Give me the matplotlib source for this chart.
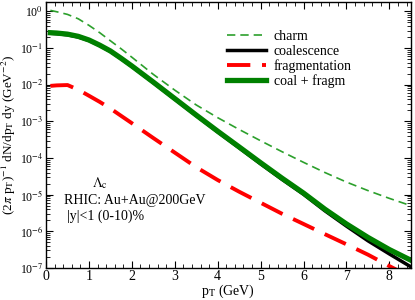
import matplotlib
matplotlib.use("Agg")
import numpy as np
import matplotlib.pyplot as plt
from matplotlib.ticker import MultipleLocator, LogLocator, NullFormatter, FuncFormatter

pt = [0.1, 0.25, 0.5, 0.75, 1.0, 1.25, 1.5, 1.75, 2.0, 2.5, 3.0, 3.5, 4.0, 4.5,
      5.0, 5.5, 6.0, 6.5, 7.0, 7.5, 8.0, 8.5]
charm = [1.07, 0.98, 0.83, 0.63, 0.417, 0.263, 0.158, 0.0955, 0.0562, 0.0191, 7.1e-3, 2.8e-3,
         1.26e-3, 6.0e-4, 2.95e-4, 1.48e-4, 7.6e-5, 4.0e-5, 2.2e-5, 1.29e-5, 7.9e-6, 5.0e-6]
coal = [0.254, 0.247, 0.230, 0.201, 0.161, 0.117, 0.0810, 0.0511, 0.0315, 0.0114, 4.03e-3,
        1.43e-3, 5.15e-4, 1.89e-4, 6.9e-5, 2.6e-5, 1.02e-5, 3.6e-6, 1.38e-6, 5.5e-7, 2.4e-7, 1.07e-7]
frag = [9.3e-3, 9.6e-3, 9.8e-3, 7.3e-3, 5.0e-3, 3.4e-3, 2.24e-3, 1.41e-3, 8.9e-4, 3.5e-4, 1.4e-4,
        5.6e-5, 2.5e-5, 1.2e-5, 6.0e-6, 3.0e-6, 1.58e-6, 8.3e-7, 4.4e-7, 2.3e-7, 1.12e-7, 5.6e-8]
total = [0.263, 0.257, 0.240, 0.209, 0.166, 0.120, 0.0832, 0.0525, 0.0324, 0.01175, 4.17e-3,
         1.48e-3, 5.37e-4, 2.0e-4, 7.4e-5, 2.8e-5, 1.1e-5, 3.98e-6, 1.58e-6, 6.8e-7, 3.16e-7, 1.62e-7]

plt.rcParams['font.family'] = ['Liberation Serif', 'DejaVu Serif']
plt.rcParams['mathtext.fontset'] = 'stix'

fig = plt.figure(figsize=(4.15, 3.0), dpi=100)
ax = fig.add_axes([0.111, 0.107, 0.879, 0.886])

ax.plot(pt, charm, color='#2ca02c', lw=1.2, ls=(0, (5, 3)), label='charm')
ax.plot(pt, coal, color='black', lw=2.5, label='coalescence')
ax.plot(pt, frag, color='#ff0000', lw=2.8, ls=(0, (6, 3)), label='fragmentation')
ax.plot(pt, total, color='#008000', lw=3.8, label='coal + fragm')

ax.set_yscale('log')
ax.set_xlim(0, 8.5)
ax.set_ylim(1e-7, 1.8)
ax.xaxis.set_major_locator(MultipleLocator(1))
ax.xaxis.set_minor_locator(MultipleLocator(0.2))
ax.yaxis.set_major_locator(LogLocator(base=10, numticks=20))
ax.yaxis.set_minor_locator(LogLocator(base=10, subs=range(2, 10), numticks=20))
ax.yaxis.set_minor_formatter(NullFormatter())
ax.yaxis.set_major_formatter(FuncFormatter(lambda v, p: '10$^{%d}$' % int(round(np.log10(v)))))
ax.tick_params(which='both', direction='in', top=True, right=True)
ax.tick_params(axis='x', labelsize=10, pad=1.5)
ax.tick_params(axis='y', labelsize=8.5, pad=2)
ax.tick_params(which='major', length=5)
ax.tick_params(which='minor', length=3)
for s in ax.spines.values():
    s.set_linewidth(1.0)

ax.set_xlabel(r'p$_\mathrm{T}$ (GeV)', fontsize=10)
ax.xaxis.set_label_coords(0.5, -0.055)
ax.xaxis.label.set_va('top')
ax.set_ylabel(r'(2$\pi$ p$_\mathrm{T}$)$^{-1}$ dN/dp$_\mathrm{T}$ dy (GeV$^{-2}$)', fontsize=9.5)
ax.yaxis.set_label_coords(-0.076, 0.5)

ax.legend(loc='upper left', bbox_to_anchor=(0.48, 0.915), frameon=False, fontsize=10,
          handlelength=2.8, handletextpad=0.6, labelspacing=0.1, borderaxespad=0)

ax.text(0.148, 0.32, r'$\Lambda_\mathrm{c}$', transform=ax.transAxes, fontsize=10, ha='center', va='center')
ax.text(0.049, 0.252, 'RHIC: Au+Au@200GeV', transform=ax.transAxes, fontsize=10, ha='left', va='center')
ax.text(0.058, 0.195, '|y|<1 (0-10)%', transform=ax.transAxes, fontsize=10, ha='left', va='center')

fig.savefig('out.png', dpi=100)
